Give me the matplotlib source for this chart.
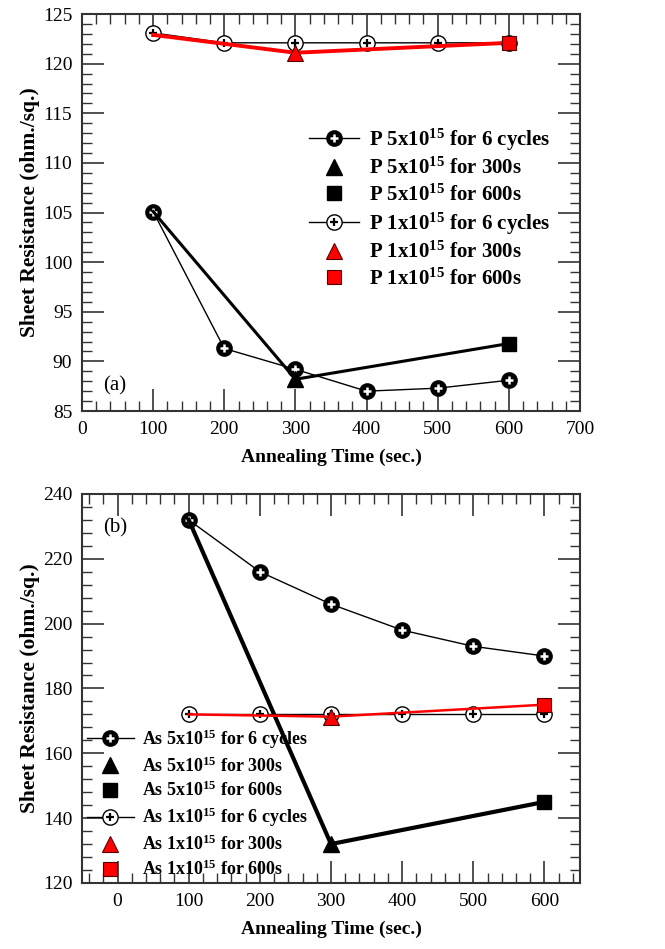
import numpy as np
import matplotlib
matplotlib.use('Agg')
import matplotlib.pyplot as plt
from matplotlib.ticker import MultipleLocator

plt.rcParams['font.family'] = ['Liberation Serif', 'DejaVu Serif']
plt.rcParams['mathtext.fontset'] = 'custom'
plt.rcParams['mathtext.rm'] = 'Liberation Serif:bold'
plt.rcParams['mathtext.it'] = 'Liberation Serif:bold'
plt.rcParams['mathtext.bf'] = 'Liberation Serif:bold'

## panel (a) : P implant
t_cyc = [100, 200, 300, 400, 500, 600]
p5_cyc = [105.1, 91.3, 89.2, 87.0, 87.3, 88.1]
p1_cyc = [123.1, 122.1, 122.1, 122.1, 122.1, 122.1]
t_single = [100, 300, 600]
p5_single = [105.1, 88.2, 91.8]
p1_single = [122.9, 121.1, 122.1]

## panel (b) : As implant
as5_cyc = [232, 216, 206, 198, 193, 190]
as1_cyc = [172, 172, 172, 172, 172, 172]
as5_single = [232, 132, 145]
as1_single = [172, 171.3, 175]

RED = '#ff0000'


def style_axes(ax, xlim, xmaj, ylim, ymaj, ymin):
  ax.set_xlim(*xlim)
  ax.set_ylim(*ylim)
  ax.xaxis.set_major_locator(MultipleLocator(xmaj))
  ax.xaxis.set_minor_locator(MultipleLocator(20))
  ax.yaxis.set_major_locator(MultipleLocator(ymaj))
  ax.yaxis.set_minor_locator(MultipleLocator(ymin))
  ax.tick_params(which='both', direction='in', top=True, right=True, labelsize=14, color='#333333')
  ax.tick_params(which='major', length=16, width=1.2, pad=7)
  ax.tick_params(which='minor', length=7, width=1.0)
  for s in ax.spines.values():
    s.set_linewidth(1.5)
    s.set_color('#333333')
  ax.set_xlabel('Annealing Time (sec.)', fontsize=14, fontweight='bold', labelpad=8)
  ax.set_ylabel('Sheet Resistance (ohm./sq.)', fontsize=15.5, fontweight='bold')
  ax.yaxis.set_label_coords(-0.085, 0.5)


def draw_panel(ax, y5c, y1c, y5s, y1s, ion, red_lw, blk_lw):
  # thin black lines with circle markers (6 cycles)
  l5, = ax.plot(t_cyc, y5c, '-', color='k', lw=1.0, marker='o', ms=10.5,
                mfc='k', mec='k', mew=1.5, zorder=4)
  p5, = ax.plot(t_cyc, y5c, ls='none', marker='+', ms=6, mec='white', mew=1.8, zorder=5)
  l1, = ax.plot(t_cyc, y1c, '-', color='k', lw=1.0, marker='o', ms=11,
                mfc='white', mec='k', mew=1.0, zorder=2)
  p1, = ax.plot(t_cyc, y1c, ls='none', marker='+', ms=6, mec='k', mew=1.6, zorder=3)

  # single anneals
  ax.plot(t_single, y5s, '-', color='k', lw=blk_lw, zorder=6)
  tri5, = ax.plot(t_single[1], y5s[1], ls='none', marker='^', ms=11, mfc='k', mec='k', zorder=7)
  sq5, = ax.plot(t_single[2], y5s[2], ls='none', marker='s', ms=10, mfc='k', mec='k', zorder=7)
  ax.plot(t_single, y1s, '-', color=RED, lw=red_lw, zorder=6)
  tri1, = ax.plot(t_single[1], y1s[1], ls='none', marker='^', ms=11, mfc=RED, mec='#550000', mew=0.8, zorder=7)
  sq1, = ax.plot(t_single[2], y1s[2], ls='none', marker='s', ms=10, mfc=RED, mec='#550000', mew=0.8, zorder=7)

  handles = [(l5, p5), tri5, sq5, (l1, p1), tri1, sq1]
  labels = [ion + ' 5x10$^{15}$ for 6 cycles',
            ion + ' 5x10$^{15}$ for 300s',
            ion + ' 5x10$^{15}$ for 600s',
            ion + ' 1x10$^{15}$ for 6 cycles',
            ion + ' 1x10$^{15}$ for 300s',
            ion + ' 1x10$^{15}$ for 600s']
  return handles, labels


fig = plt.figure(figsize=(6.65, 9.49), dpi=100)
axA = fig.add_axes([0.1233, 0.5669, 0.7489, 0.4183])
axB = fig.add_axes([0.1233, 0.0696, 0.7489, 0.4099])

hA, labA = draw_panel(axA, p5_cyc, p1_cyc, p5_single, p1_single, 'P', 2.8, 2.2)
style_axes(axA, (0, 700), 100, (85, 125), 5, 1)
axA.legend(hA, labA, loc='upper left', bbox_to_anchor=(0.455, 0.717), frameon=False,
           prop={'family': 'Liberation Serif', 'weight': 'bold', 'size': 15},
           handlelength=2.4, handletextpad=0.5, labelspacing=0.25,
           borderpad=0, borderaxespad=0)
axA.text(30, 87.5, '(a)', fontsize=15, va='center')

hB, labB = draw_panel(axB, as5_cyc, as1_cyc, as5_single, as1_single, 'As', 1.8, 3.0)
style_axes(axB, (-50, 650), 100, (120, 240), 20, 4)
axB.legend(hB, labB, loc='upper left', bbox_to_anchor=(0.01, 0.40), frameon=False,
           prop={'family': 'Liberation Serif', 'weight': 'bold', 'size': 13},
           handlelength=2.6, handletextpad=0.45, labelspacing=0.3,
           borderpad=0, borderaxespad=0)
axB.text(-21, 229.5, '(b)', fontsize=15, va='center')

fig.savefig('out.png', dpi=100)
